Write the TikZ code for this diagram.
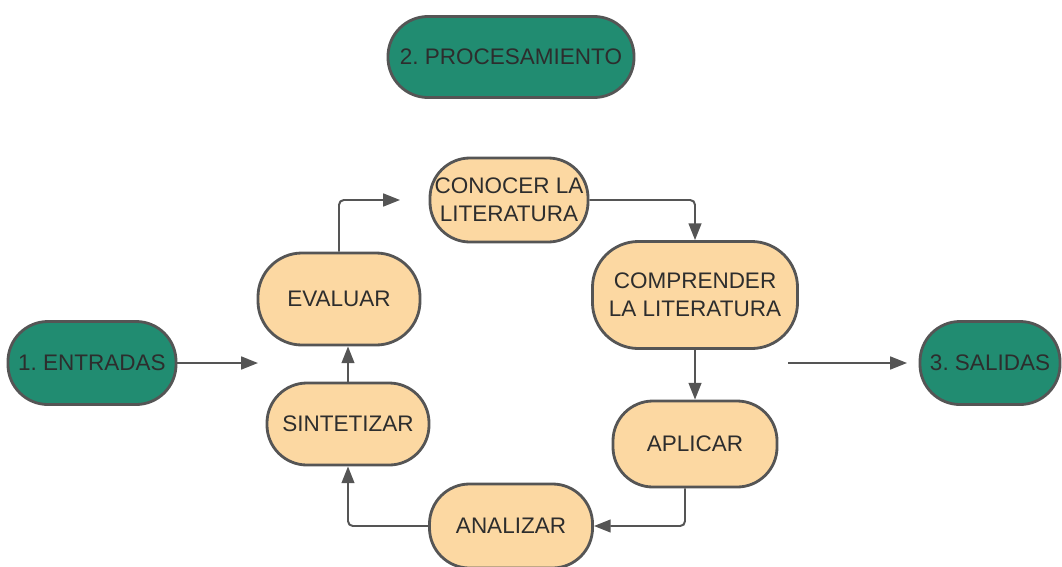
\documentclass[tikz,border=0pt]{standalone}
\usepackage{fontspec}
\setmainfont{Liberation Sans}
\frenchspacing
\usetikzlibrary{arrows.meta}
\definecolor{verde}{RGB}{33,140,113}
\definecolor{crema}{RGB}{252,216,162}
\definecolor{gris}{RGB}{85,85,85}
\definecolor{texto}{RGB}{45,45,45}
\tikzset{
  caja/.style={draw=gris,line width=2pt,rounded corners=1cm,inner sep=0pt,
    align=center,text=texto,font=\fontsize{16}{20}\selectfont},
  fase/.style={caja,fill=verde},
  paso/.style={caja,fill=crema},
  flecha/.style={draw=gris,line width=1.4pt,rounded corners=0.12cm,
    -{Triangle[length=0.42cm,width=0.32cm]}}
}
\begin{document}
\begin{tikzpicture}[x=0.025cm,y=-0.025cm]
\clip (0,0) rectangle (1062,566);
% fases
\node[fase,minimum width=6.15cm,minimum height=2.025cm](proc)at(511,57){2. PROCESAMIENTO};
\node[fase,minimum width=4.2cm,minimum height=2.075cm](entradas)at(92,363){1. ENTRADAS};
\node[fase,minimum width=3.5cm,minimum height=2.075cm](salidas)at(990,363){3. SALIDAS};
% ciclo
\node[paso,minimum width=3.95cm,minimum height=2.1cm](conocer)at(509,200){CONOCER LA\\LITERATURA};
\node[paso,minimum width=5.125cm,minimum height=2.675cm,rounded corners=1.15cm](comprender)at(695,295){COMPRENDER\\LA LITERATURA};
\node[paso,minimum width=4.1cm,minimum height=2.15cm](aplicar)at(695,444){APLICAR};
\node[paso,minimum width=4.075cm,minimum height=2.1cm](analizar)at(511,526){ANALIZAR};
\node[paso,minimum width=4.05cm,minimum height=2.05cm](sintetizar)at(348,424){SINTETIZAR};
\node[paso,minimum width=4.05cm,minimum height=2.3cm,rounded corners=1.1cm](evaluar)at(339,299){EVALUAR};
% extremos libres
\coordinate(ent)at(258,363);
\coordinate(ev)at(400,200);
\coordinate(sal1)at(788,363);
\coordinate(sal2)at(907,363);
\draw[flecha](entradas.east)--(ent);
\draw[flecha](evaluar.north)|-(ev);
\draw[flecha](conocer.east)-|(comprender.north);
\draw[flecha](comprender.south)--(aplicar.north);
\draw[flecha]([xshift=-0.25cm]aplicar.south)|-(analizar.east);
\draw[flecha](analizar.west)-|(sintetizar.south);
\draw[flecha](sintetizar.north)--(sintetizar.north|-evaluar.south);
\draw[flecha](sal1)--(sal2);
\end{tikzpicture}
\end{document}
